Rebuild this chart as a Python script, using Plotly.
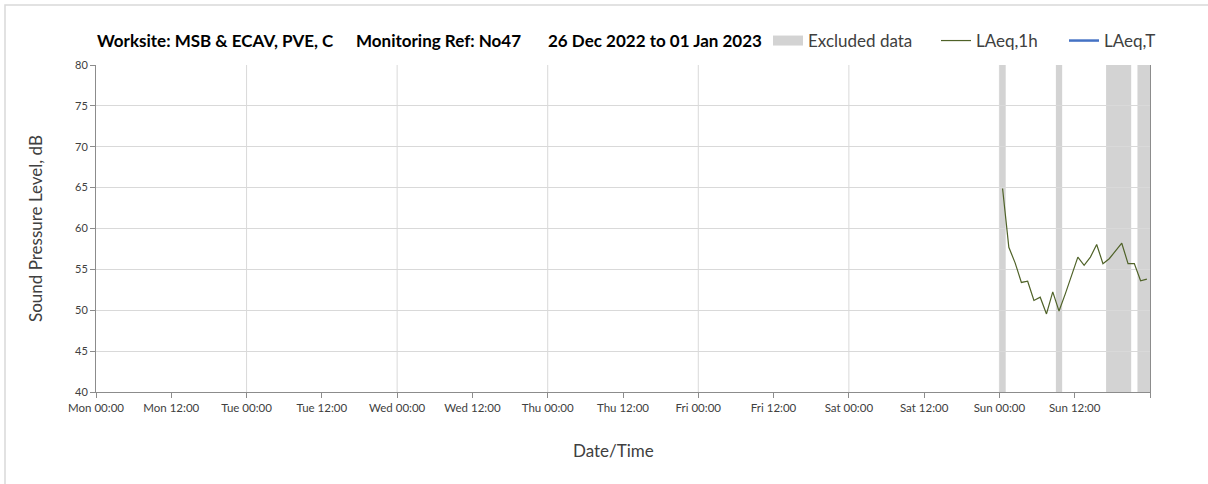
import plotly.graph_objects as go

# ---------------- data ----------------
times = [
    "2023-01-01 00:30", "2023-01-01 01:30", "2023-01-01 02:30", "2023-01-01 03:30",
    "2023-01-01 04:30", "2023-01-01 05:30", "2023-01-01 06:30", "2023-01-01 07:30",
    "2023-01-01 08:30", "2023-01-01 09:30", "2023-01-01 10:30", "2023-01-01 11:30",
    "2023-01-01 12:30", "2023-01-01 13:30", "2023-01-01 14:30", "2023-01-01 15:30",
    "2023-01-01 16:30", "2023-01-01 17:30", "2023-01-01 18:30", "2023-01-01 19:30",
    "2023-01-01 20:30", "2023-01-01 21:30", "2023-01-01 22:30", "2023-01-01 23:30",
]
laeq_1h = [
    64.9, 57.7, 55.8, 53.4, 53.55, 51.2, 51.6, 49.55,
    52.25, 49.9, 52.0, 54.2, 56.5, 55.5, 56.5, 58.05,
    55.7, 56.3, 57.2, 58.2, 55.7, 55.7, 53.6, 53.8,
]
excluded_start = ["2023-01-01 00:00", "2023-01-01 09:00", "2023-01-01 17:00", "2023-01-01 22:00"]
excluded_end = ["2023-01-01 01:00", "2023-01-01 10:00", "2023-01-01 21:00", "2023-01-02 00:00"]

tick_vals = [
    "2022-12-26 00:00", "2022-12-26 12:00", "2022-12-27 00:00", "2022-12-27 12:00",
    "2022-12-28 00:00", "2022-12-28 12:00", "2022-12-29 00:00", "2022-12-29 12:00",
    "2022-12-30 00:00", "2022-12-30 12:00", "2022-12-31 00:00", "2022-12-31 12:00",
    "2023-01-01 00:00", "2023-01-01 12:00", "2023-01-02 00:00",
]
tick_labels = [
    "Mon 00:00", "Mon 12:00", "Tue 00:00", "Tue 12:00", "Wed 00:00", "Wed 12:00",
    "Thu 00:00", "Thu 12:00", "Fri 00:00", "Fri 12:00", "Sat 00:00", "Sat 12:00",
    "Sun 00:00", "Sun 12:00", "",
]
x_range = ["2022-12-26 00:00", "2023-01-02 00:00"]
y_range = [40, 80]

title_parts = ["Worksite: MSB &amp; ECAV, PVE, C", "Monitoring Ref: No47", "26 Dec 2022 to 01 Jan 2023"]
x_title = "Date/Time"
y_title = "Sound Pressure Level, dB"

# ---------------- styling ----------------
FONT = "Lato, 'Open Sans', sans-serif"
GRID = "#d9d9d9"
AXIS = "#8c8c8c"
BAND = "#d3d3d3"
GREEN = "#4f6228"
BLUE = "#4472c4"
TXT = "#404040"

W, H = 1208, 484
L, R, T, B = 96, 58, 65, 92
PW, PH = W - L - R, H - T - B


def px_x(px):
    return (px - L) / PW


def px_y(py):
    return (H - B - py) / PH


fig = go.Figure()

# legend-only entry for excluded data
fig.add_trace(go.Scatter(
    x=[None], y=[None], mode="lines", name="Excluded data",
    line=dict(color=BAND, width=10), legend="legend",
))
fig.add_trace(go.Scatter(
    x=times, y=laeq_1h, mode="lines", name="LAeq,1h",
    line=dict(color=GREEN, width=1.2), legend="legend2",
))
fig.add_trace(go.Scatter(
    x=[None], y=[None], mode="lines", name="LAeq,T",
    line=dict(color=BLUE, width=2.5), legend="legend3",
))

shapes = []
# excluded bands
for s, e in zip(excluded_start, excluded_end):
    shapes.append(dict(type="rect", xref="x", yref="y", x0=s, x1=e,
                       y0=y_range[0], y1=y_range[1], fillcolor=BAND,
                       line=dict(width=0), layer="below"))
# daily vertical gridlines
for v, lab in zip(tick_vals[1:-1], tick_labels[1:-1]):
    if lab.endswith("00:00"):
        shapes.append(dict(type="line", xref="x", yref="y", x0=v, x1=v,
                           y0=y_range[0], y1=y_range[1],
                           line=dict(color=GRID, width=1), layer="below"))
# outer chart border
shapes.append(dict(type="rect", xref="paper", yref="paper",
                   x0=px_x(5), x1=px_x(1230), y0=px_y(500), y1=px_y(5),
                   line=dict(color=GRID, width=1.5), fillcolor="rgba(0,0,0,0)"))

annotations = []
title_x = [95, 354, 546]
for txt, xp in zip(title_parts, title_x):
    annotations.append(dict(text="<b>" + txt + "</b>", xref="paper", yref="paper",
                            x=px_x(xp), y=px_y(40), xanchor="left", yanchor="middle",
                            showarrow=False, font=dict(family=FONT, size=17, color="#000000")))
# x-axis title (centred slightly left of the plot centre, as in the reference)
annotations.append(dict(text=x_title, xref="paper", yref="paper",
                        x=px_x(613), y=px_y(450), xanchor="center", yanchor="middle",
                        showarrow=False, font=dict(family=FONT, size=17, color=TXT)))

legend_common = dict(orientation="h", yanchor="middle", y=px_y(41), xanchor="left",
                     font=dict(family=FONT, size=17, color=TXT),
                     bgcolor="rgba(0,0,0,0)", itemwidth=30, tracegroupgap=0)

fig.update_layout(
    width=W, height=H,
    margin=dict(l=L, r=R, t=T, b=B),
    paper_bgcolor="white", plot_bgcolor="rgba(0,0,0,0)",
    font=dict(family=FONT, color=TXT),
    showlegend=True,
    legend=dict(x=px_x(768), **legend_common),
    legend2=dict(x=px_x(936), **legend_common),
    legend3=dict(x=px_x(1064), **legend_common),
    shapes=shapes,
    annotations=annotations,
    xaxis=dict(
        type="date", range=x_range,
        tickvals=tick_vals, ticktext=tick_labels,
        showgrid=False, zeroline=False,
        showline=True, linecolor=AXIS, linewidth=1,
        ticks="outside", ticklen=5, tickcolor=AXIS,
        tickfont=dict(family=FONT, size=11.5, color=TXT),
    ),
    yaxis=dict(
        range=y_range, dtick=5, tick0=40,
        showgrid=True, gridcolor=GRID, gridwidth=1, zeroline=False,
        showline=True, linecolor=AXIS, linewidth=1, mirror=True,
        ticks="outside", ticklen=5, tickcolor=AXIS,
        tickfont=dict(family=FONT, size=11, color=TXT),
        title=dict(text=y_title, font=dict(family=FONT, size=17, color=TXT), standoff=28),
    ),
)

fig.write_html("out.html", config={"displayModeBar": False},
               post_script="document.body.style.margin='0px';")
